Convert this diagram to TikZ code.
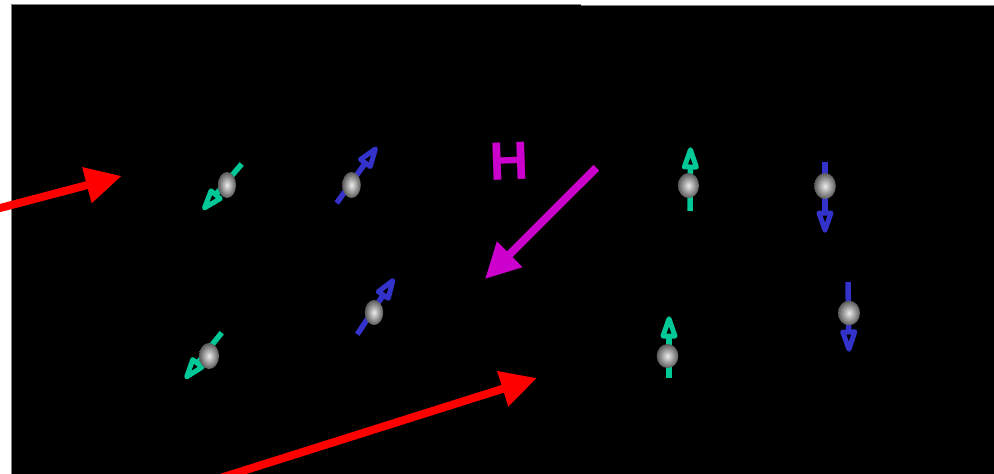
\documentclass[tikz,border=0pt]{standalone}
\usepackage{fontspec}
\newfontfamily\hfont{Liberation Sans}
\usetikzlibrary{calc,arrows.meta,shapes.geometric}

\definecolor{spingreen}{RGB}{0,200,150}
\definecolor{spinblue}{RGB}{51,51,204}
\definecolor{fieldmag}{RGB}{204,0,204}
\definecolor{beamred}{RGB}{255,0,0}
\definecolor{ballin}{RGB}{236,236,236}
\definecolor{ballout}{RGB}{90,90,90}

\tikzset{
  ball/.style={ellipse, inner sep=0pt, shading=radial, inner color=ballin, outer color=ballout},
  beam/.style={draw=beamred, line width=8pt, -{Triangle[length=36pt,width=35pt]}},
  field/.style={draw=fieldmag, line width=8pt, -{Triangle[length=35pt,width=34pt]}},
  edge line/.style={draw=gray, line width=1pt},
}

% spin arrow: #1 colour, #2 tail coordinate, #3 tip coordinate (open triangular head)
\newcommand\drawspin[3]{%
  \coordinate (#3-base) at ($(#3)!20pt!(#2)$);
  \coordinate (#3-tip) at ($(#3)!2.75pt!(#2)$);
  \coordinate (#3-l) at ($(#3-base)!6pt!90:(#3)$);
  \coordinate (#3-r) at ($(#3-base)!6pt!-90:(#3)$);
  \draw[#1, line width=5.5pt] (#2) -- (#3-base);
  \draw[#1, line width=5pt, line join=round] (#3-tip) -- (#3-l) -- (#3-r) -- cycle;
}

\begin{document}
\begin{tikzpicture}[x=1pt,y=-1pt]
  \useasboundingbox (0,0) rectangle (994,474);
  \fill[white] (0,0) rectangle (994,474);

  % black panels
  \fill[black] (11.5,4.5) rectangle (581,480);
  \fill[black] (580.5,5.5) rectangle (1000,480);
  \path[edge line] (11.5,480) -- (11.5,4.5) -- (580.5,4.5);
  \path[edge line] (580.5,5.5) -- (1000,5.5);

  % spin arrows: tails and tips
  \coordinate (t1) at (241.7,164);   \coordinate (p1) at (202.7,210);
  \coordinate (t2) at (336.7,203);   \coordinate (p2) at (377,146.7);
  \coordinate (t3) at (221.7,332.7); \coordinate (p3) at (185,379);
  \coordinate (t4) at (357.3,334.3); \coordinate (p4) at (394.3,278.3);
  \coordinate (t5) at (690,211);     \coordinate (p5) at (690.5,147);
  \coordinate (t6) at (825,162);     \coordinate (p6) at (825,233);
  \coordinate (t7) at (669,378);     \coordinate (p7) at (669,316);
  \coordinate (t8) at (848,282);     \coordinate (p8) at (849,352);

  \drawspin{spingreen}{t1}{p1}
  \drawspin{spinblue}{t2}{p2}
  \drawspin{spingreen}{t3}{p3}
  \drawspin{spinblue}{t4}{p4}
  \drawspin{spingreen}{t5}{p5}
  \drawspin{spinblue}{t6}{p6}
  \drawspin{spingreen}{t7}{p7}
  \drawspin{spinblue}{t8}{p8}

  % electrons
  \node[ball, minimum width=18pt,   minimum height=26pt] (b1) at (227,185) {};
  \node[ball, minimum width=18.6pt, minimum height=26pt] (b2) at (351.5,185) {};
  \node[ball, minimum width=20pt,   minimum height=26pt] (b3) at (209,356) {};
  \node[ball, minimum width=18.4pt, minimum height=25pt] (b4) at (374,312.5) {};
  \node[ball, minimum width=21pt,   minimum height=25pt] (b5) at (688.5,185.5) {};
  \node[ball, minimum width=21.6pt, minimum height=26pt] (b6) at (825,186) {};
  \node[ball, minimum width=21.6pt, minimum height=24pt] (b7) at (667.5,356) {};
  \node[ball, minimum width=22pt,   minimum height=24.6pt] (b8) at (849,313) {};

  % incoming beams
  \coordinate (r1s) at (-6,209.6);  \coordinate (r1e) at (121.7,176);
  \coordinate (r2s) at (214,480);   \coordinate (r2e) at (537,378);
  \draw[beam] (r1s) -- (r1e);
  \draw[beam] (r2s) -- (r2e);

  % applied field
  \node[text=fieldmag, font=\hfont\bfseries\fontsize{54}{54}\selectfont, inner sep=0pt, rotate=2] (hlabel) at (509,161) {H};
  \coordinate (m1s) at (596.3,167.8); \coordinate (m1e) at (485,279);
  \draw[field] (m1s) -- (m1e);
\end{tikzpicture}
\end{document}
